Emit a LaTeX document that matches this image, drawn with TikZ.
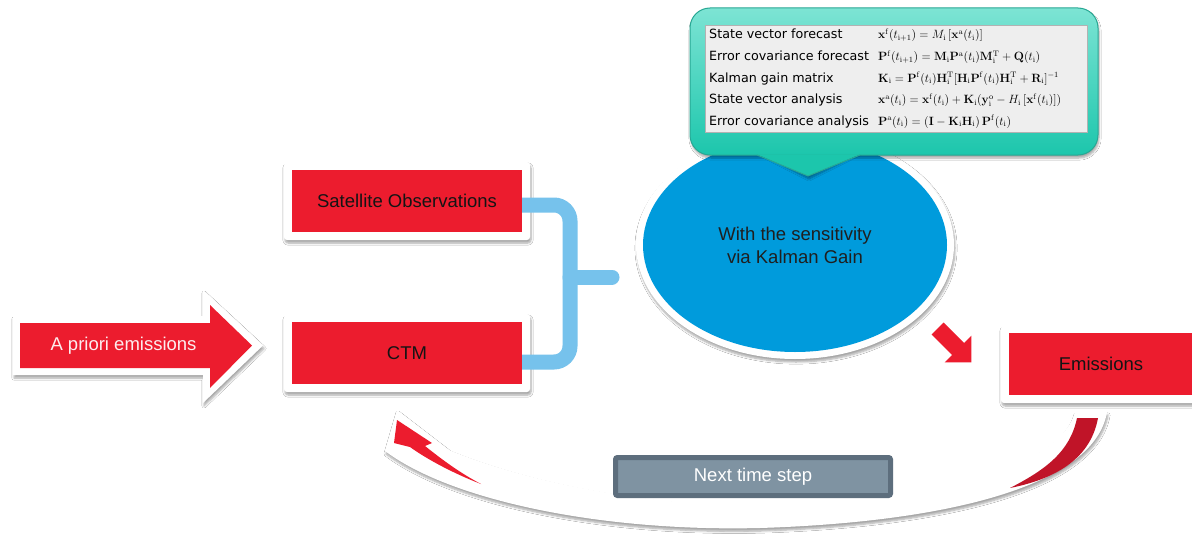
\documentclass[tikz,border=0pt]{standalone}
\usepackage[no-math]{fontspec}
\setmainfont{Liberation Sans}
\newfontfamily\verd{DejaVu Sans}
\usetikzlibrary{shapes.geometric,shadows,shadows.blur}
\definecolor{ared}{RGB}{236,28,46}
\definecolor{dred}{RGB}{192,20,40}
\definecolor{kblue}{RGB}{0,155,220}
\definecolor{lblue}{RGB}{118,194,236}
\definecolor{tealtop}{RGB}{125,228,212}
\definecolor{tealbot}{RGB}{28,198,172}
\definecolor{tealdark}{RGB}{40,168,148}
\definecolor{nfill}{RGB}{127,147,162}
\definecolor{nborder}{RGB}{93,110,125}
\definecolor{tabfill}{RGB}{238,238,238}
\begin{document}
\begin{tikzpicture}[x=1pt,y=-1pt,
  shd/.style={blur shadow={shadow xshift=1pt,shadow yshift=-3pt,shadow blur steps=6,shadow opacity=35}},
  frame/.style={fill=white,rounded corners=3pt,shd},
  redbox/.style={fill=ared,minimum width=230pt,minimum height=62pt,text=black!92,font=\fontsize{18.5}{23}\selectfont},
  lab/.style={anchor=base west,inner sep=0pt,font=\verd\fontsize{12.7}{15}\selectfont},
  frm/.style={anchor=base west,inner sep=0pt,font=\fontsize{12}{14}\selectfont},
  brace/.style={draw=lblue,line width=15pt,line cap=round}
]
\useasboundingbox (0,0) rectangle (1192,535);
\clip (0,0) rectangle (1192,535);
\fill[white] (0,0) rectangle (1192,535);

% ---- curved return arrow (white band with shadow)
\fill[white,shd] (1107,412) .. controls (1095,485) and (950,522) .. (760,528)
  .. controls (600,532) and (450,500) .. (385,451) -- (397,410) -- (449,450)
  .. controls (560,495) and (700,508) .. (780,506)
  .. controls (950,500) and (1062,462) .. (1075,412) -- cycle;
\fill[dred] (1077,418) -- (1098,418) .. controls (1090,462) and (1050,480) .. (1010,488)
  .. controls (1045,470) and (1070,452) .. (1077,418) -- cycle;
\fill[ared] (397,420) -- (432,443) -- (425,446) .. controls (445,462) and (462,474) .. (481,484)
  .. controls (455,474) and (428,460) .. (410,447) -- (394,443) -- cycle;

% ---- boxes
\node[frame,minimum width=246pt,minimum height=78pt] (satf) at (407,201) {};
\node[redbox] (sat) at (407,201) {Satellite Observations};
\node[frame,minimum width=246pt,minimum height=78pt] (ctmf) at (407,353) {};
\node[redbox] (ctm) at (407,353) {CTM};
\node[frame,minimum width=200pt,minimum height=78pt] (emisf) at (1101,364) {};
\node[redbox,minimum width=184pt] (emis) at (1101,364) {Emissions};

% ---- brace
\draw[brace,line cap=butt,rounded corners=16pt] ([yshift=-4pt]sat.east) -- (570,205) -- (570,362) -- ([yshift=-9pt]ctm.east);
\draw[brace] (570,277) -- (612,277);

% ---- a priori arrow
\fill[white,shd] (13,316) -- (203,316) -- (203,290) -- (263,345.5) -- (203,403) -- (203,375) -- (13,375) -- cycle;
\fill[ared] (20,323) -- (210,323) -- (210,305) -- (252,345.5) -- (210,388) -- (210,368) -- (20,368) -- cycle;
\node[text=white!92!ared,font=\fontsize{18.5}{23}\selectfont] (apriori) at (123.5,346) {A priori emissions};

% ---- ellipse
\node[ellipse,fill=white,minimum width=318pt,minimum height=228pt,shd] (kalf) at (795,245) {};
\node[ellipse,fill=kblue,minimum width=304pt,minimum height=214pt,align=center,text=black!88,
  font=\fontsize{18.5}{23}\selectfont] (kal) at (795,245) {With the sensitivity\\via Kalman Gain};

% ---- down-right arrow
\draw[white,fill=white,line width=12pt,line join=miter,shd] (931.5,334.5) -- (943.5,322.5) -- (964,343) -- (971.4,335.6) -- (971.4,362.4) -- (944.6,362.4) -- (952,355) -- cycle;
\fill[ared] (931.5,334.5) -- (943.5,322.5) -- (964,343) -- (971.4,335.6) -- (971.4,362.4) -- (944.6,362.4) -- (952,355) -- cycle;

% ---- callout
\fill[tealbot,shd] (757,150) -- (808,176) -- (860,150) -- cycle;
\node[top color=tealtop,bottom color=tealbot,draw=tealdark,line width=1pt,rounded corners=20pt,
  minimum width=408pt,minimum height=147pt,shd] (call) at (894,81.5) {};
\fill[tealbot] (757,154.4) -- (808,176) -- (860,154.4) -- cycle;
\draw[tealdark,line width=1pt] (757,155) -- (808,176) -- (860,155);
\node[fill=tabfill,draw=black!30,line width=0.6pt,minimum width=382pt,minimum height=107pt] (tab) at (896,78.5) {};

\node[lab] (l1) at (709,39) {State vector forecast};
\node[lab] (l2) at (709,60.5) {Error covariance forecast};
\node[lab] (l3) at (709,82) {Kalman gain matrix};
\node[lab] (l4) at (709,103.5) {State vector analysis};
\node[lab] (l5) at (709,125) {Error covariance analysis};

\node[frm] (f1) at (878,39) {$\mathbf{x}^{\mathrm{f}}(t_{\mathrm{i+1}}) = M_{\mathrm{i}}\,[\mathbf{x}^{\mathrm{a}}(t_{\mathrm{i}})]$};
\node[frm] (f2) at (878,60.5) {$\mathbf{P}^{\mathrm{f}}(t_{\mathrm{i+1}}) = \mathbf{M}_{\mathrm{i}}\mathbf{P}^{\mathrm{a}}(t_{\mathrm{i}})\mathbf{M}_{\mathrm{i}}^{\mathrm{T}} + \mathbf{Q}(t_{\mathrm{i}})$};
\node[frm] (f3) at (878,82) {$\mathbf{K}_{\mathrm{i}} = \mathbf{P}^{\mathrm{f}}(t_{\mathrm{i}})\mathbf{H}_{\mathrm{i}}^{\mathrm{T}}[\mathbf{H}_{\mathrm{i}}\mathbf{P}^{\mathrm{f}}(t_{\mathrm{i}})\mathbf{H}_{\mathrm{i}}^{\mathrm{T}} + \mathbf{R}_{\mathrm{i}}]^{-1}$};
\node[frm] (f4) at (878,103.5) {$\mathbf{x}^{\mathrm{a}}(t_{\mathrm{i}}) = \mathbf{x}^{\mathrm{f}}(t_{\mathrm{i}}) + \mathbf{K}_{\mathrm{i}}(\mathbf{y}_{\mathrm{i}}^{\mathrm{o}} - H_{\mathrm{i}}\,[\mathbf{x}^{\mathrm{f}}(t_{\mathrm{i}})])$};
\node[frm] (f5) at (878,125) {$\mathbf{P}^{\mathrm{a}}(t_{\mathrm{i}}) = (\mathbf{I} - \mathbf{K}_{\mathrm{i}}\mathbf{H}_{\mathrm{i}})\,\mathbf{P}^{\mathrm{f}}(t_{\mathrm{i}})$};

% ---- next time step
\node[fill=nfill,draw=nborder,line width=5pt,rounded corners=2pt,minimum width=275pt,minimum height=38pt,
  text=white,font=\fontsize{18.5}{23}\selectfont] (next) at (753,476.5) {Next time step};
\end{tikzpicture}
\end{document}
